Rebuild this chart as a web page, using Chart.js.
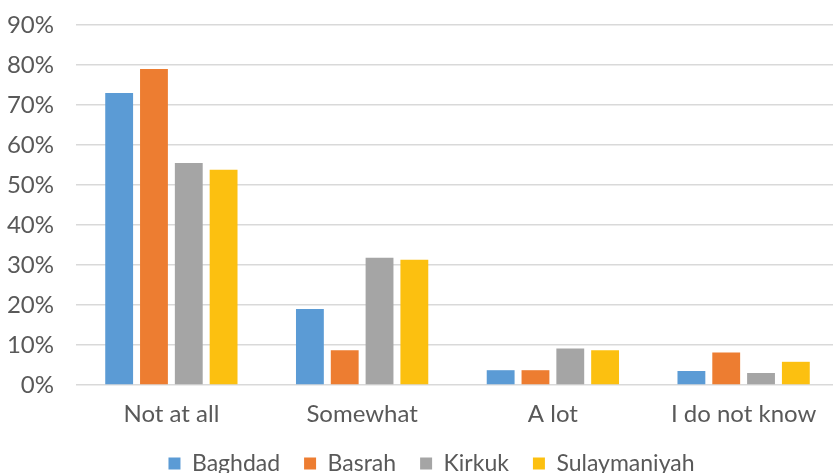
<!DOCTYPE html>
<html>
<head>
<meta charset="utf-8">
<script src="https://cdn.jsdelivr.net/npm/chart.js@4/dist/chart.umd.min.js"></script>
<style>
  html, body { margin: 0; padding: 0; background: #fff; overflow: hidden; }
  #wrap { width: 864px; height: 485px; }
</style>
</head>
<body>
<div id="wrap"><canvas id="answersChart"></canvas></div>
<script>
const categories = ['Not at all', 'Somewhat', 'A lot', 'I do not know'];
const baghdad = [73, 19, 3.7, 3.5];
const basrah = [79, 8.7, 3.7, 8.1];
const kirkuk = [55.5, 31.8, 9.1, 3.0];
const sulaymaniyah = [53.8, 31.3, 8.7, 5.8];
const yTicks = [0, 10, 20, 30, 40, 50, 60, 70, 80, 90];

const textColor = '#595959';
const fontFamily = 'Lato, "Open Sans", sans-serif';

// legend is centred a bit right of the canvas middle in the original
const legendShift = {
  id: 'legendShift',
  afterLayout(chart) {
    if (chart.legend) chart.legend.left = 24;
  }
};

const ctx = document.getElementById('answersChart').getContext('2d');
new Chart(ctx, {
  type: 'bar',
  data: {
    labels: categories,
    datasets: [
      { label: 'Baghdad', data: baghdad, backgroundColor: '#5B9BD5' },
      { label: 'Basrah', data: basrah, backgroundColor: '#ED7D31' },
      { label: 'Kirkuk', data: kirkuk, backgroundColor: '#A5A5A5' },
      { label: 'Sulaymaniyah', data: sulaymaniyah, backgroundColor: '#FCC010' }
    ]
  },
  plugins: [legendShift],
  options: {
    responsive: true,
    maintainAspectRatio: false,
    animation: false,
    datasets: {
      bar: { categoryPercentage: 0.73, barPercentage: 0.8 }
    },
    layout: { padding: { left: 0, right: 25, top: 25, bottom: 0 } },
    plugins: {
      tooltip: { enabled: false },
      legend: {
        position: 'bottom',
        labels: {
          color: textColor,
          font: { family: fontFamily, size: 23 },
          boxWidth: 12,
          boxHeight: 12,
          padding: 24
        }
      }
    },
    scales: {
      x: {
        grid: { display: false },
        border: { display: false },
        ticks: { color: textColor, font: { family: fontFamily, size: 24 }, padding: 7 },
        afterFit: (s) => { s.paddingLeft = 0; s.paddingRight = 0; s.height = 43; }
      },
      y: {
        min: 0,
        max: 90,
        afterBuildTicks: (axis) => { axis.ticks = yTicks.map(v => ({ value: v })); },
        afterFit: (s) => { s.width = 76; s.paddingTop = 0; s.paddingBottom = 0; },
        grid: { color: '#D9D9D9', lineWidth: 1.5, drawTicks: false },
        border: { display: false },
        ticks: {
          color: textColor,
          font: { family: fontFamily, size: 24 },
          padding: 22,
          callback: (v) => v + '%'
        }
      }
    }
  }
});
</script>
</body>
</html>
